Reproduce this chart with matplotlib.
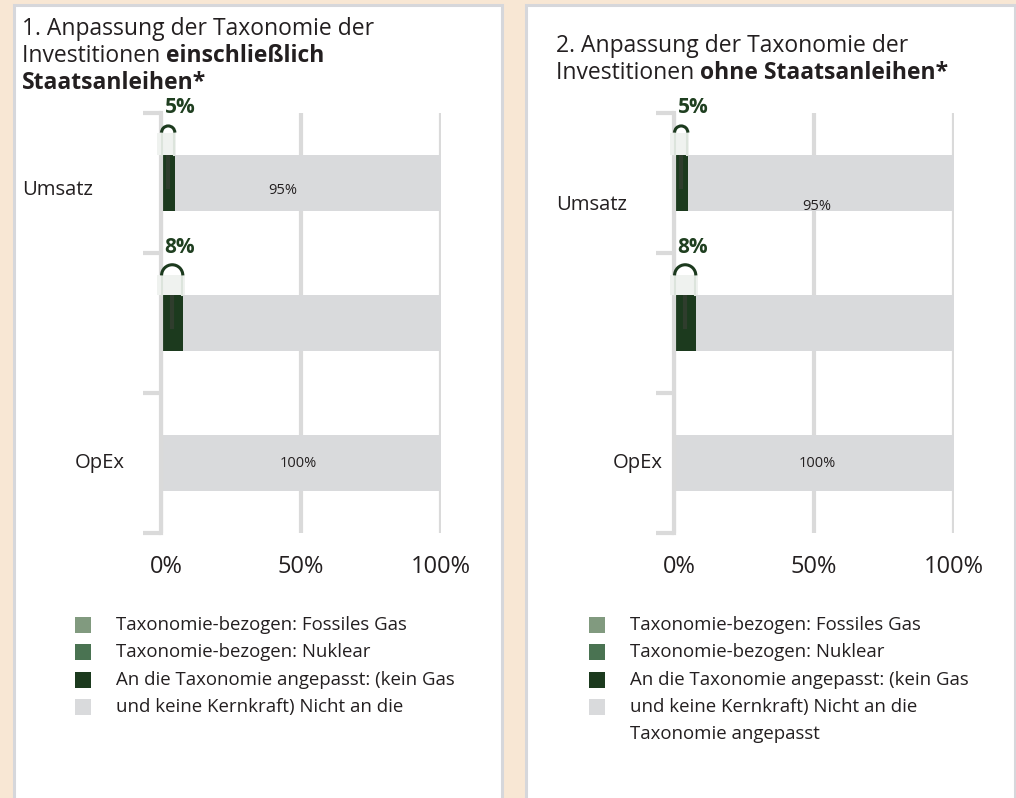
import matplotlib
matplotlib.use("Agg")
import matplotlib.pyplot as plt
import matplotlib.transforms as mtransforms
from matplotlib.patches import Rectangle, Arc

plt.rcParams['font.family'] = ['Open Sans', 'DejaVu Sans']

W, H = 1016, 798

# Daten
kategorien = ["Umsatz", "", "OpEx"]
fossiles_gas = [0, 0, 0]
nuklear = [0, 0, 0]
angepasst_1 = [5, 8, 0]
nicht_angepasst_1 = [95, 92, 100]
angepasst_2 = [5, 8, 0]
nicht_angepasst_2 = [95, 92, 100]
balken_text_1 = ["95%", "", "100%"]
balken_text_2 = ["95%", "", "100%"]
x_ticks = [0, 50, 100]
x_labels = ["0%", "50%", "100%"]

titel_1 = [[("1. Anpassung der Taxonomie der", "normal")],
           [("Investitionen ", "normal"), ("einschließlich", "bold")],
           [("Staatsanleihen*", "bold")]]
titel_2 = [[("2. Anpassung der Taxonomie der", "normal")],
           [("Investitionen ", "normal"), ("ohne Staatsanleihen*", "bold")]]

legende_farben = ["#819A7F", "#4A7352", "#1C3A1E", "#D9DADC"]
legende_1 = ["Taxonomie-bezogen: Fossiles Gas", "Taxonomie-bezogen: Nuklear",
             "An die Taxonomie angepasst: (kein Gas", "und keine Kernkraft) Nicht an die"]
legende_2 = legende_1 + ["Taxonomie angepasst"]

BEIGE = "#F8E7D4"
RAND = "#D6D7DB"
GRID = "#DADADA"
TEXT = "#231F20"
DUNKEL = "#1C3A1E"
GRAU = "#D9DADC"


def fx(x):
    return x / W


def fy(y):
    return 1 - y / H


fig = plt.figure(figsize=(W / 100, H / 100), dpi=100, facecolor=BEIGE)
renderer = fig.canvas.get_renderer()

# weisse Kaesten
for x0, x1 in [(13.5, 501.5), (525.5, 1014.5)]:
    fig.add_artist(Rectangle((fx(x0), fy(830)), fx(x1) - fx(x0), fy(4.5) - fy(830),
                             transform=fig.transFigure, facecolor="white",
                             edgecolor=RAND, lw=2.2, zorder=0))


def zeile(x, y, teile, size):
    # Text mit normalen und fetten Teilen nebeneinander
    for txt, w in teile:
        t = fig.text(fx(x), fy(y), txt, fontsize=size, fontweight=w, color=TEXT,
                     ha="left", va="baseline")
        bb = t.get_window_extent(renderer)
        x = bb.x1


def panel(x_achse, angepasst, nicht, balken_text, text_pos, titel, titel_xy,
          kat_pos, legende, leg_x):
    ax = fig.add_axes([fx(x_achse), fy(533), 280 / W, 420 / H])
    ax.set_facecolor("none")
    y = range(len(kategorien))
    links = [0] * len(kategorien)
    for werte, farbe in [(fossiles_gas, legende_farben[0]), (nuklear, legende_farben[1]),
                         (angepasst, DUNKEL), (nicht, GRAU)]:
        ax.barh(y, werte, left=links, height=0.4, color=farbe, zorder=2)
        links = [a + b for a, b in zip(links, werte)]

    ax.set_xlim(0, 100)
    ax.set_ylim(2.5, -0.5)
    ax.set_xticks(x_ticks)
    ax.set_xticklabels(x_labels, fontsize=17, color=TEXT)
    ax.tick_params(axis="x", length=0, pad=16)
    # "0%" steht im Original etwas nach rechts versetzt
    lab0 = ax.get_xticklabels()[0]
    lab0.set_transform(lab0.get_transform() +
                       mtransforms.ScaledTranslation(0.05, 0, fig.dpi_scale_trans))
    ax.set_yticks([-0.5, 0.5, 1.5, 2.5])
    ax.set_yticklabels([])
    ax.tick_params(axis="y", length=13, width=3, color=GRID)
    ax.xaxis.grid(True, color=GRID, lw=3, zorder=0)
    ax.set_axisbelow(True)
    for s in ["top", "right", "bottom"]:
        ax.spines[s].set_visible(False)
    ax.spines["left"].set_color(GRID)
    ax.spines["left"].set_linewidth(3)

    # Werte in den Balken
    for i, t in enumerate(balken_text):
        if t:
            ax.text(text_pos[i][0], i + text_pos[i][1], t, fontsize=10.5, color=TEXT,
                    ha="center", va="center", zorder=4)

    # Beschriftung der angepassten Anteile
    for i, v in enumerate(angepasst):
        if v <= 0:
            continue
        oben = i - 0.2
        mitte = oben - (0.16 if v < 7 else 0.14)
        ax.add_patch(Rectangle((-1.5, mitte), v + 2.0, oben - mitte, facecolor="#EFF2EF",
                               edgecolor="none", zorder=5, clip_on=False))
        for xs in [0.2, v * 0.95]:
            ax.plot([xs, xs], [mitte, oben], color="#DCE4DC", lw=1.5, zorder=6,
                    clip_on=False)
        ax.add_patch(Arc((v * 0.95 / 2 + 0.2, mitte), v * 0.95, v * 0.95 * 2.8 / 140,
                         theta1=180, theta2=360, color=DUNKEL, lw=2.2, zorder=7,
                         clip_on=False))
        ax.plot([v / 2, v / 2], [oben, i + 0.03], color="#2F3D2D", lw=3, zorder=3)
        ax.text(1.3, i - 0.536, f"{v}%", fontsize=15, fontweight="bold", color="#1F3F20",
                ha="left", va="center", clip_on=False, zorder=7)

    # Titel
    tx, ty = titel_xy
    for k, teile in enumerate(titel):
        zeile(tx, ty + k * 27, teile, 16.5)

    # Kategorien
    for i, k in enumerate(kategorien):
        if k:
            fig.text(fx(kat_pos[i][0]), fy(kat_pos[i][1]), k, fontsize=14.6, color=TEXT,
                     ha="left", va="center")

    # Legende
    for j, lab in enumerate(legende):
        yy = 625 + j * 27.3
        if j < len(legende_farben):
            fig.add_artist(Rectangle((fx(leg_x), fy(yy + 8)), 16 / W, 16 / H,
                                     transform=fig.transFigure, facecolor=legende_farben[j],
                                     edgecolor="none"))
        fig.text(fx(leg_x + 41), fy(yy), lab, fontsize=13.4, color=TEXT,
                 ha="left", va="center")
    return ax


panel(161, angepasst_1, nicht_angepasst_1, balken_text_1,
      [(43.5, 0.05), (50, 0), (49, 0)], titel_1, (22, 35),
      [(22, 190), (0, 0), (75, 463)], legende_1, 75)
panel(674, angepasst_2, nicht_angepasst_2, balken_text_2,
      [(51, 0.17), (50, 0), (51, 0)], titel_2, (556, 52),
      [(556, 205), (0, 0), (613, 463)], legende_2, 589)

fig.savefig("out.png", dpi=100, facecolor=BEIGE)
